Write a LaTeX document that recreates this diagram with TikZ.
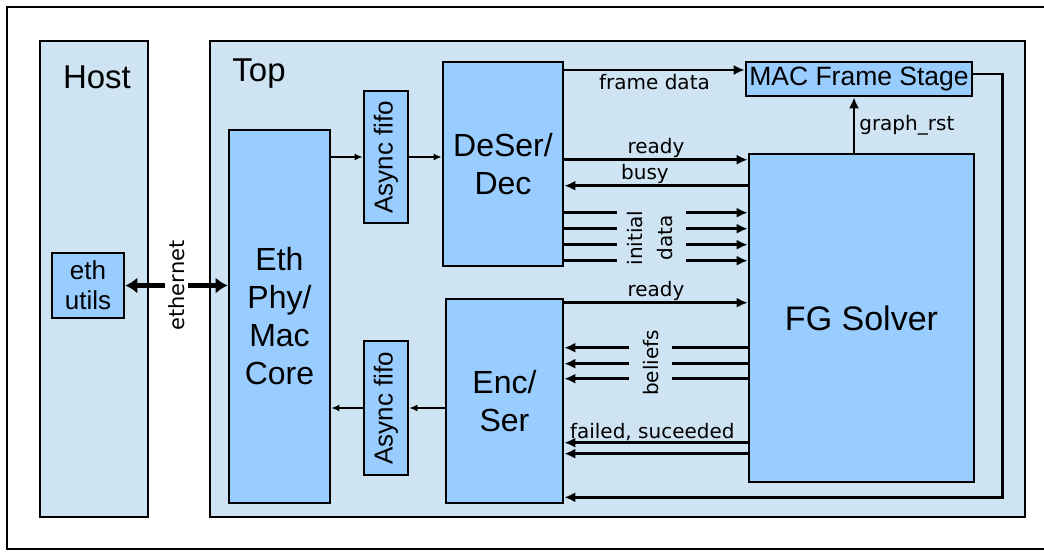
\documentclass[tikz,border=0pt]{standalone}
\usepackage{fontspec}
\setmainfont{Liberation Sans}
\newfontfamily\lblfont{DejaVu Sans}
\usetikzlibrary{arrows.meta}
\definecolor{panelfill}{HTML}{CFE4F3}
\definecolor{blockfill}{HTML}{99CCFF}

\begin{document}
\begin{tikzpicture}[x=1pt, y=-1pt,
  panel/.style={draw=black, fill=panelfill, line width=2.4pt, inner sep=0pt},
  block/.style={draw=black, fill=blockfill, line width=2.6pt, align=center, inner sep=0pt,
    font=\fontsize{32}{38}\selectfont},
  fifo/.style={block, minimum width=44pt, font=\fontsize{26}{30}\selectfont},
  ttl/.style={font=\fontsize{33}{38}\selectfont, inner sep=0pt},
  sig/.style={line width=2.6pt},
  arr/.style={sig, -{Latex[length=11pt,width=10pt]}},
  sarr/.style={line width=2pt, -{Latex[length=8pt,width=7pt]}},
  fatarr/.style={line width=5pt, {Latex[length=12pt,width=16pt]}-{Latex[length=12pt,width=16pt]}},
  albl/.style={font=\lblfont\fontsize{20}{30}\selectfont, inner sep=1pt}]
\useasboundingbox (0,0) rectangle (1044,554);
\draw[line width=2.4pt] (1050,7) -- (7,7) -- (7,549) -- (1050,549);

% host side and fpga top
\node[panel, minimum width=108pt, minimum height=476pt] (host) at (94,279) {};
\node[panel, minimum width=815pt, minimum height=476pt] (top) at (617.5,279) {};
\node[ttl] (hostlbl) at (97,77) {Host};
\node[ttl] (toplbl) at (259,74) {Top};

% blocks
\node[block, minimum width=72pt, minimum height=65pt, font=\fontsize{26}{30}\selectfont] (ethutils) at (88,285.5) {eth\\utils};
\node[block, minimum width=101pt, minimum height=373pt] (eth) at (279.5,316.5) {Eth\\Phy/\\Mac\\Core};
\node[fifo, minimum height=132pt] (fifoin) at (386,157) {\rotatebox{90}{Async fifo}};
\node[fifo, minimum height=134pt] (fifoout) at (386,408) {\rotatebox{90}{Async fifo}};
\node[block, minimum width=120pt, minimum height=204pt] (deser) at (503,164) {DeSer/\\Dec};
\node[block, minimum width=117pt, minimum height=204pt] (encser) at (504.5,401) {Enc/\\Ser};
\node[block, minimum width=226pt, minimum height=34pt, font=\fontsize{26.5}{30}\selectfont] (mac) at (859,79) {MAC Frame Stage};
\node[block, minimum width=225pt, minimum height=328pt, font=\fontsize{34}{38}\selectfont] (fg) at (861.5,318) {FG Solver};

% ethernet link
\draw[fatarr] (ethutils.east) -- node[fill=white, inner sep=3pt, font=\lblfont\fontsize{21}{24}\selectfont] (ethlbl) {\rotatebox{90}{ethernet}} (ethutils.east -| eth.west);

% receive and transmit paths through the fifos
\draw[sarr] (eth.east |- fifoin.west) -- (fifoin.west);
\draw[sarr] (fifoin.east) -- (fifoin.east -| deser.west);
\draw[sarr] (encser.west |- fifoout.east) -- (fifoout.east);
\draw[sarr] (fifoout.west) -- (fifoout.west -| eth.east);

% decoder side
\draw[arr] ([yshift=9pt]mac.west -| deser.east) -- node[albl, below=2pt] {frame data} ([yshift=9pt]mac.west);
\draw[arr] ([xshift=-7.5pt]fg.north) -- node[albl, right=3pt] {graph\_rst} ([xshift=-7.5pt]fg.north |- mac.south);
\draw[arr] ([yshift=-7pt]fg.north west -| deser.east) -- node[albl, above=0pt] {ready} ([yshift=-7pt]fg.north west);
\draw[arr] ([yshift=-33pt]fg.north west) -- node[albl, above=0pt, pos=0.56] {busy} ([yshift=-33pt]fg.north west -| deser.east);
\foreach \dy in {60,76,92,108} {
  \draw[sig] ([yshift=-\dy pt]fg.north west -| deser.east) -- ++(53,0);
  \draw[arr] ([xshift=-62pt,yshift=-\dy pt]fg.north west) -- ([yshift=-\dy pt]fg.north west);
}
\node[albl] (initlbl) at (651,238) {\rotatebox{90}{\begin{tabular}{@{}c@{}}initial\\data\end{tabular}}};

% encoder side
\draw[arr] ([yshift=-5pt]encser.north east) -- node[albl, above=0pt] {ready} ([yshift=-5pt]encser.north east -| fg.west);
\foreach \dy in {50,66,81} {
  \draw[sig] ([yshift=-\dy pt]encser.north east -| fg.west) -- ++(-76,0);
  \draw[arr] ([xshift=65pt,yshift=-\dy pt]encser.north east) -- ([yshift=-\dy pt]encser.north east);
}
\node[albl] (belieflbl) at (651,363) {\rotatebox{90}{beliefs}};
\draw[arr] ([yshift=-145pt]encser.north east -| fg.west) -- node[albl, above=0pt, pos=0.52] {failed, suceeded} ([yshift=-145pt]encser.north east);
\draw[arr] ([yshift=-156pt]encser.north east -| fg.west) -- ([yshift=-156pt]encser.north east);
\draw[arr] ([yshift=5pt]mac.east) -- ++(29,0) |- ([yshift=7pt]encser.south east);
\end{tikzpicture}
\end{document}
